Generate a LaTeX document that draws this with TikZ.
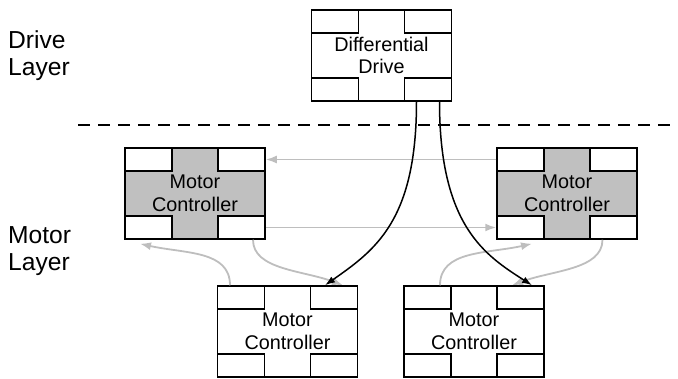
\documentclass[tikz,border=0pt]{standalone}
\usepackage{fontspec}
\setmainfont{Liberation Sans}
\usetikzlibrary{arrows.meta}
\definecolor{crossgray}{RGB}{192,192,192}
\definecolor{linkgray}{RGB}{190,190,190}

\begin{document}
\begin{tikzpicture}[x=1pt,y=-1pt,
  unit/.style={draw,line width=1.5pt,minimum width=140pt,minimum height=91pt,inner sep=0pt,align=center,font=\fontsize{19.8}{22.5}\selectfont},
  corner/.style={draw,line width=1.5pt,fill=white,minimum width=47pt,minimum height=23pt,inner sep=0pt},
  layer/.style={anchor=west,align=left,inner sep=0pt,font=\fontsize{24.6}{27}\selectfont},
  cmd/.style={line width=1.5pt,-{Latex[length=10pt,width=7pt]}},
  link/.style={linkgray,line width=1.8pt,-{Latex[length=11pt,width=8pt]}}]
\path[use as bounding box] (0,0) rectangle (678,378);

\node[layer] (drivelbl) at (8,56) {Drive\\Layer};
\node[layer] (motorlbl) at (8,251) {Motor\\Layer};

\draw[line width=1.5pt,dash pattern=on 12pt off 8pt] (78,125) -- (678,125);

\node[unit] (dd) at (381.5,55.5) {Differential\\Drive};
\node[unit,fill=crossgray] (ml) at (195,193.5) {Motor\\Controller};
\node[unit,fill=crossgray] (mr) at (567,193.5) {Motor\\Controller};
\node[unit] (bl) at (287.5,331.5) {Motor\\Controller};
\node[unit] (br) at (474,331.5) {Motor\\Controller};

\foreach \u in {dd,ml,mr,bl,br} {
  \node[corner,anchor=north west] (\u-nw) at (\u.north west) {};
  \node[corner,anchor=north east] (\u-ne) at (\u.north east) {};
  \node[corner,anchor=south west] (\u-sw) at (\u.south west) {};
  \node[corner,anchor=south east] (\u-se) at (\u.south east) {};
}

% links between the motor controllers
\draw[link] (mr-nw.west) -- (ml-ne.east);
\draw[link] (ml-se.east) -- (mr-sw.west);
\draw[link] ([xshift=-11pt]bl-nw.north) .. controls +(0,-35) and +(45,10) .. ([xshift=-8.5pt,yshift=-4pt]ml-sw.south);
\draw[link] ([xshift=11.5pt]ml-se.south) .. controls +(0,30) and +(-40,-15) .. ([xshift=9pt]bl-ne.north);
\draw[link] ([xshift=12.5pt]br-nw.north) .. controls +(0,-35) and +(-45,10) .. ([xshift=11.5pt,yshift=-4pt]mr-sw.south);
\draw[link] ([xshift=-11pt]mr-se.south) .. controls +(0,30) and +(40,-15) .. ([xshift=-8.5pt]br-ne.north);

% commands from the drive
\draw[cmd] ([xshift=-11.5pt]dd-se.south) .. controls +(0,119) and +(50,-35) .. ([xshift=-9pt]bl-ne.north);
\draw[cmd] ([xshift=11.5pt]dd-se.south) .. controls +(0,124) and +(-47,-30) .. ([xshift=11.5pt]br-ne.north);
\end{tikzpicture}
\end{document}
